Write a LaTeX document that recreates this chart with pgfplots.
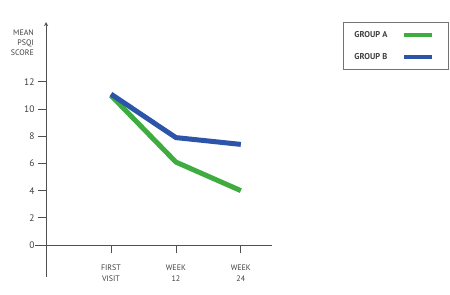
\documentclass[border=0pt]{standalone}
\usepackage{pgfplots}
\pgfplotsset{compat=1.18}
\usepackage{fontspec}
\setmainfont{PT Sans}
\definecolor{grpA}{RGB}{62,172,62}
\definecolor{grpB}{RGB}{44,84,168}
\definecolor{axgray}{RGB}{80,80,80}
\begin{document}
\begin{tikzpicture}
\useasboundingbox (-35bp,-18bp) rectangle (415bp,277bp);
\begin{axis}[
  at={(0,0)}, anchor=south west,
  scale only axis, width=237bp, height=255bp,
  xmin=-0.17, xmax=3.48, ymin=-2.35, ymax=16.4,
  axis lines=middle,
  hide obscured y ticks=false,
  axis line style={axgray, line width=0.9pt},
  x axis line style={-},
  y axis line style={-stealth},
  xtick={1,2,3},
  xticklabels={FIRST\\VISIT, WEEK\\12, WEEK\\24},
  ytick={0,2,4,6,8,10,12},
  tick align=outside,
  major tick length=8bp,
  tick style={axgray, line width=0.8pt},
  x tick label style={align=center, font=\fontsize{8}{11}\selectfont, text=black!75, yshift=-8bp},
  y tick label style={font=\fontsize{9.5}{10}\selectfont, text=black!75},
  /pgf/number format/assume math mode=true,
  ylabel={MEAN\\PSQI\\SCORE},
  ylabel style={rotate=0, at={(rel axis cs:0.01,0.985)}, anchor=north east, align=right, font=\fontsize{8}{10.5}\selectfont, text=black!75},
  clip=false,
  legend style={at={(rel axis cs:1.2996,1.0)}, anchor=north west, draw=black!55, line width=0.9pt,
     font=\bfseries\fontsize{8.5}{9}\selectfont, text=black!75,
     inner xsep=14bp, inner ysep=7bp, row sep=10bp},
  legend plot pos=right,
  legend cell align=left,
  legend image code/.code={\draw[#1, line width=4bp] (0bp,0bp) -- (28bp,0bp);},
]
\addplot[grpA, line width=5bp] coordinates {(1,11.0) (2,6.1) (3,4.0)};
\addlegendentry{\hspace*{-5bp}\makebox[46bp][l]{GROUP A}}
\addplot[grpB, line width=5bp] coordinates {(1,11.1) (2,7.9) (3,7.4)};
\addlegendentry{\hspace*{-5bp}\makebox[46bp][l]{GROUP B}}
\end{axis}
\end{tikzpicture}
\end{document}
